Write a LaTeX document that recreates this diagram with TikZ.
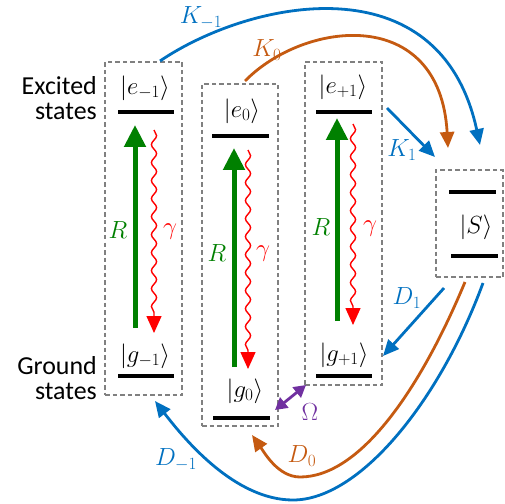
\documentclass[tikz,border=0pt]{standalone}
\usepackage{fontspec}
\setmainfont{Carlito}
\usetikzlibrary{arrows.meta,decorations.pathmorphing}
\definecolor{kblue}{RGB}{0,112,192}
\definecolor{korange}{RGB}{197,90,17}
\definecolor{kgreen}{RGB}{0,128,0}
\definecolor{kpurple}{RGB}{112,48,160}
\begin{document}
\begin{tikzpicture}[x=1bp,y=-1bp,
 boxst/.style={draw=gray, dash pattern=on 4.5bp off 3bp, line width=1.1bp, inner sep=0, outer sep=0, anchor=north west},
 lvl/.style={fill=black, inner sep=0, outer sep=0, minimum height=4bp},
 ket/.style={inner sep=0, font=\fontsize{25}{28}\selectfont},
 lbl/.style={inner sep=0, font=\fontsize{25}{28}\selectfont},
 side/.style={inner sep=0, anchor=east, align=right, font=\fontsize{26}{25}\selectfont},
 pump/.style={kgreen, line width=5bp, -{Triangle[width=21bp,length=22bp]}},
 decay/.style={red, line width=1.4bp, -{Triangle[width=15bp,length=17bp]}, decorate, decoration={snake, amplitude=2.6bp, segment length=18bp, post length=18bp}},
 rate/.style={line width=2.8bp, -{Triangle[width=14bp,length=16bp]}},
]
\useasboundingbox (0,0) rectangle (505,504);

% side texts
\node[side] (exc) at (97,98) {Excited\\states};
\node[side] (gnd) at (97,378) {\fontsize{26}{31}\selectfont Ground\\states};

% boxes
\node[boxst, minimum width=77bp, minimum height=333bp] (b1) at (105,62) {};
\node[boxst, minimum width=76bp, minimum height=342bp] (b2) at (202,84) {};
\node[boxst, minimum width=77bp, minimum height=323bp] (b3) at (305,62) {};
\node[boxst, minimum width=67bp, minimum height=107bp] (b4) at (436,170) {};

% levels
\node[lvl, minimum width=56bp] (em1) at (146,112) {};
\node[lvl, minimum width=56bp] (gm1) at (146,376) {};
\node[lvl, minimum width=57bp] (e0) at (240,136) {};
\node[lvl, minimum width=57bp] (g0) at (241,418) {};
\node[lvl, minimum width=56bp] (ep1) at (344,112) {};
\node[lvl, minimum width=56bp] (gp1) at (344,376) {};
\node[lvl, minimum width=47bp] (st) at (472,192) {};
\node[lvl, minimum width=47bp] (sb) at (474,256) {};

% kets
\node[ket] (lem1) at (145,88) {$|e_{-1}\rangle$};
\node[ket] (le0) at (242,111) {$|e_{0}\rangle$};
\node[ket] (lep1) at (343,87) {$|e_{+1}\rangle$};
\node[ket] (lgm1) at (145,356) {$|g_{-1}\rangle$};
\node[ket] (lg0) at (245,391) {$|g_{0}\rangle$};
\node[ket] (lgp1) at (344,355) {$|g_{+1}\rangle$};
\node[ket] (lS) at (476,227) {$|S\rangle$};

% pumps and decays
\coordinate (p1a) at (135,328); \coordinate (p1b) at (135,125);
\coordinate (p2a) at (234,367); \coordinate (p2b) at (234,148);
\coordinate (p3a) at (337,321); \coordinate (p3b) at (337,118);
\draw[pump] (p1a) -- (p1b);
\draw[pump] (p2a) -- (p2b);
\draw[pump] (p3a) -- (p3b);
\coordinate (d1a) at (154,130); \coordinate (d1b) at (154,333);
\coordinate (d2a) at (248,150); \coordinate (d2b) at (248,369);
\coordinate (d3a) at (353,124); \coordinate (d3b) at (353,325);
\draw[decay] (d1a) -- (d1b);
\draw[decay] (d2a) -- (d2b);
\draw[decay] (d3a) -- (d3b);
\node[lbl, text=kgreen] (R1) at (118,230) {$R$};
\node[lbl, text=red] (g1) at (170,232) {$\gamma$};
\node[lbl, text=kgreen] (R2) at (217,253) {$R$};
\node[lbl, text=red] (g2) at (263,254) {$\gamma$};
\node[lbl, text=kgreen] (R3) at (321,227) {$R$};
\node[lbl, text=red] (g3) at (370,229) {$\gamma$};

% rates to/from S
\coordinate (km1s) at (160,61); \coordinate (km1e) at (480,145);
\coordinate (k0s) at (245,81); \coordinate (k0e) at (448,148);
\coordinate (k1s) at (387,108); \coordinate (k1e) at (435,157);
\coordinate (d1s) at (444,288); \coordinate (d1e) at (383,356);
\coordinate (d0s) at (465,282); \coordinate (d0m) at (300,477); \coordinate (d0e) at (252,435);
\coordinate (dm1s) at (483,283); \coordinate (dm1m) at (293,500); \coordinate (dm1e) at (155,401);
\draw[rate, kblue] (km1s) .. controls (250,0) and (440,-40) .. (km1e);
\draw[rate, korange] (k0s) .. controls (305,20) and (440,5) .. (k0e);
\draw[rate, kblue] (k1s) -- (k1e);
\draw[rate, kblue] (d1s) -- (d1e);
\draw[rate, korange] (d0s) .. controls (420,390) and (360,477) .. (d0m) .. controls (278,477) and (264,452) .. (d0e);
\draw[rate, kblue] (dm1s) .. controls (440,400) and (360,500) .. (dm1m) .. controls (235,500) and (185,440) .. (dm1e);
\node[lbl, text=kblue] (lkm1) at (201,18) {$K_{-1}$};
\node[lbl, text=korange] (lk0) at (267,50) {$K_{0}$};
\node[lbl, text=kblue] (lk1) at (402,150) {$K_{1}$};
\node[lbl, text=kblue] (ld1) at (407,298) {$D_{1}$};
\node[lbl, text=korange] (ld0) at (302,456) {$D_{0}$};
\node[lbl, text=kblue] (ldm1) at (176,460) {$D_{-1}$};

% Omega coupling
\coordinate (oma) at (306,385); \coordinate (omb) at (275,410);
\draw[kpurple, line width=2.8bp, {Triangle[width=13bp,length=12bp]}-{Triangle[width=13bp,length=12bp]}] (oma) -- (omb);
\node[lbl, text=kpurple] (lom) at (310,412) {$\Omega$};
\end{tikzpicture}
\end{document}
